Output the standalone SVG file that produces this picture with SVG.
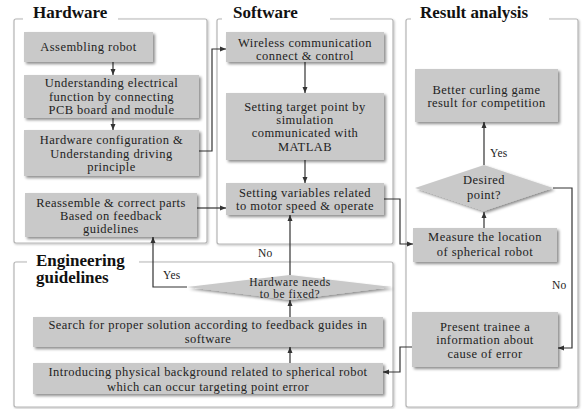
<svg xmlns="http://www.w3.org/2000/svg" width="582" height="409" viewBox="0 0 582 409">
<defs>
  <filter id="sh" x="-10%" y="-20%" width="125%" height="150%">
    <feGaussianBlur in="SourceAlpha" stdDeviation="1.5"/>
    <feOffset dx="2" dy="2" result="b"/>
    <feComponentTransfer><feFuncA type="linear" slope="0.45"/></feComponentTransfer>
    <feMerge><feMergeNode/><feMergeNode in="SourceGraphic"/></feMerge>
  </filter>
  <filter id="psh" x="-5%" y="-5%" width="110%" height="110%">
    <feGaussianBlur in="SourceAlpha" stdDeviation="1"/>
    <feOffset dx="1" dy="1" result="b"/>
    <feComponentTransfer><feFuncA type="linear" slope="0.25"/></feComponentTransfer>
    <feMerge><feMergeNode/><feMergeNode in="SourceGraphic"/></feMerge>
  </filter>
  <marker id="ar" markerWidth="6" markerHeight="6" refX="6" refY="3" orient="auto" markerUnits="userSpaceOnUse">
    <path d="M0,0.5 L6,3 L0,5.5 z" fill="#333"/>
  </marker>
</defs>
<style>
  .panel{fill:#fff;stroke:#b5b5b5;stroke-width:1.2}
  .box{fill:#c9c9c9;filter:url(#sh)}
  .dia{fill:#c9c9c9;filter:url(#sh)}
  .t{font-family:"Liberation Serif","Times New Roman",serif;font-size:12.5px;letter-spacing:0.45px;fill:#222;text-anchor:middle}
  .td{font-family:"Liberation Serif","Times New Roman",serif;font-size:11.5px;letter-spacing:0.5px;fill:#222;text-anchor:middle}
  .lbl{font-family:"Liberation Serif","Times New Roman",serif;font-size:11.5px;letter-spacing:0.3px;fill:#222}
  .title{font-family:"Liberation Serif","Times New Roman",serif;font-size:17px;font-weight:bold;fill:#111}
  .ca{fill:none;stroke:#333;stroke-width:1.2;marker-end:url(#ar)}
</style>
<rect width="582" height="409" fill="#fff"/>

<g id="panel-hardware">
  <rect class="panel" x="14" y="19" width="193" height="224" rx="2" filter="url(#psh)"/>
  <rect x="23" y="2" width="95" height="22" fill="#fff"/>
  <text class="title" x="33" y="18">Hardware</text>
</g>
<g id="panel-software">
  <rect class="panel" x="217" y="19" width="176" height="225" rx="2" filter="url(#psh)"/>
  <rect x="222" y="2" width="108" height="22" fill="#fff"/>
  <text class="title" x="233" y="18">Software</text>
</g>
<g id="panel-result">
  <rect class="panel" x="406" y="19" width="172" height="388" rx="2" filter="url(#psh)"/>
  <rect x="411" y="2" width="138" height="22" fill="#fff"/>
  <text class="title" x="420" y="18">Result analysis</text>
</g>
<g id="panel-engineering">
  <rect class="panel" x="14" y="262" width="379" height="145" rx="2" filter="url(#psh)"/>
  <rect x="27" y="248" width="112" height="42" fill="#fff"/>
  <text class="title" x="36" y="266">Engineering</text>
  <text class="title" x="36" y="283">guidelines</text>
</g>

<g id="connectors">
  <path class="ca" d="M113,62 V75"/>
  <path class="ca" d="M113,118 V130"/>
  <path class="ca" d="M199,151 H212 V49 H226"/>
  <path class="ca" d="M197,208 H226"/>
  <path class="ca" d="M305,62 V93"/>
  <path class="ca" d="M305,160 V183"/>
  <path class="ca" d="M384,199 H400 V244 H413"/>
  <path class="ca" d="M484,228 V212"/>
  <path class="ca" d="M484,165 V122"/>
  <path class="ca" d="M553,188 H572 V348 H558"/>
  <path class="ca" d="M412,347 H400 V372 H383"/>
  <path class="ca" d="M290,363 V347"/>
  <path class="ca" d="M290,317 V300"/>
  <path class="ca" d="M290,275 V215"/>
  <path class="ca" d="M187,287 H153 V237"/>
  <text class="lbl" x="258" y="257">No</text>
  <text class="lbl" x="163" y="279">Yes</text>
  <text class="lbl" x="490" y="157">Yes</text>
  <text class="lbl" x="552" y="289">No</text>
</g>

<g id="assembling">
  <rect class="box" x="24" y="32" width="129" height="30"/>
  <text class="t" x="88.5" y="51">Assembling robot</text>
</g>
<g id="understanding">
  <rect class="box" x="24" y="75" width="175" height="43"/>
  <text class="t" x="111.5" y="87">Understanding electrical</text>
  <text class="t" x="111.5" y="101">function by connecting</text>
  <text class="t" x="111.5" y="114">PCB board and module</text>
</g>
<g id="hwconfig">
  <rect class="box" x="24" y="130" width="175" height="46"/>
  <text class="t" x="111.5" y="144">Hardware configuration &amp;</text>
  <text class="t" x="111.5" y="158">Understanding driving</text>
  <text class="t" x="111.5" y="171">principle</text>
</g>
<g id="reassemble">
  <rect class="box" x="25" y="193" width="172" height="44"/>
  <text class="t" x="111" y="207">Reassemble &amp; correct parts</text>
  <text class="t" x="111" y="220">Based on feedback</text>
  <text class="t" x="111" y="233">guidelines</text>
</g>

<g id="wireless">
  <rect class="box" x="226" y="32" width="158" height="30"/>
  <text class="t" x="305" y="47">Wireless communication</text>
  <text class="t" x="305" y="60">connect &amp; control</text>
</g>
<g id="target">
  <rect class="box" x="226" y="93" width="158" height="67"/>
  <text class="t" x="305" y="111">Setting target point by</text>
  <text class="t" x="305" y="124">simulation</text>
  <text class="t" x="305" y="137">communicated with</text>
  <text class="t" x="305" y="151">MATLAB</text>
</g>
<g id="variables">
  <rect class="box" x="226" y="183" width="158" height="32"/>
  <text class="t" x="305" y="197">Setting variables related</text>
  <text class="t" x="305" y="210">to motor speed &amp; operate</text>
</g>

<g id="better">
  <rect class="box" x="415" y="69" width="143" height="53"/>
  <text class="t" x="486.5" y="94">Better curling game</text>
  <text class="t" x="486.5" y="107">result for competition</text>
</g>
<g id="desired">
  <polygon class="dia" points="484,165 553,188 484,211 415,188"/>
  <text class="t" x="484" y="184">Desired</text>
  <text class="t" x="484" y="199">point?</text>
</g>
<g id="measure">
  <rect class="box" x="413" y="228" width="144" height="34"/>
  <text class="t" x="485" y="241">Measure the location</text>
  <text class="t" x="485" y="256">of spherical robot</text>
</g>
<g id="present">
  <rect class="box" x="412" y="312" width="146" height="55"/>
  <text class="t" x="485" y="331">Present trainee a</text>
  <text class="t" x="485" y="344">information about</text>
  <text class="t" x="485" y="358">cause of error</text>
</g>

<g id="hwfix">
  <polygon class="dia" points="290,275 392,287 290,300 187,287"/>
  <text class="td" x="290" y="286">Hardware needs</text>
  <text class="td" x="290" y="298">to be fixed?</text>
</g>
<g id="search">
  <rect class="box" x="33" y="317" width="350" height="30"/>
  <text class="t" x="208" y="329">Search for proper solution according to feedback guides in</text>
  <text class="t" x="208" y="343">software</text>
</g>
<g id="introducing">
  <rect class="box" x="33" y="363" width="350" height="31"/>
  <text class="t" x="208" y="376">Introducing physical background related to spherical robot</text>
  <text class="t" x="208" y="391">which can occur targeting point error</text>
</g>
</svg>
